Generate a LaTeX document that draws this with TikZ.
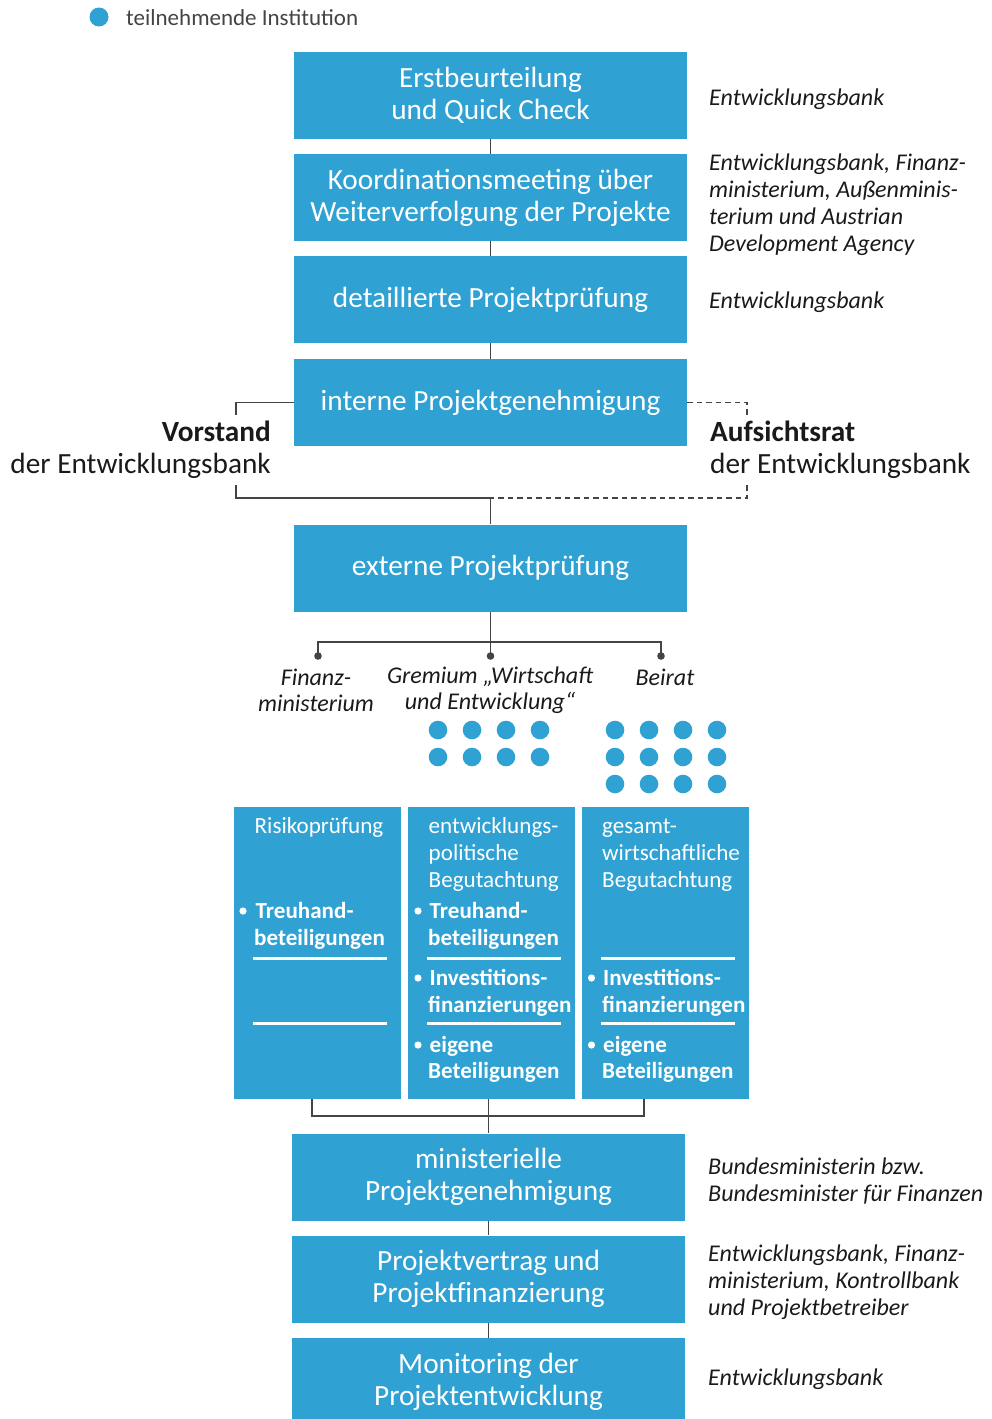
\documentclass[tikz,border=0pt]{standalone}
\usepackage{fontspec}
\setmainfont{Carlito}
\definecolor{bl}{HTML}{2FA1D3}
\definecolor{ln}{HTML}{444444}
\definecolor{tx}{HTML}{1A1A1A}
\begin{document}
\begin{tikzpicture}[x=1pt,y=-1pt,
  box/.style={fill=bl, text=white, minimum width=393, minimum height=87, inner sep=0, align=center, font=\fontsize{29.3}{32}\selectfont},
  col/.style={fill=bl, minimum width=167, minimum height=292, inner sep=0},
  conn/.style={draw=ln, line width=1.6},
  dconn/.style={conn, dash pattern=on 5.5pt off 4pt},
  rlab/.style={anchor=west, align=left, text=tx, font=\fontsize{24}{27}\selectfont\itshape, inner sep=0},
  blab/.style={align=center, text=tx, font=\fontsize{24}{26}\selectfont\itshape, inner sep=0},
  big/.style={text=tx, font=\fontsize{29.3}{32}\selectfont, inner sep=0},
  hd/.style={anchor=base west, text=white, font=\fontsize{23.1}{26}\selectfont, inner sep=0},
  bd/.style={anchor=base west, text=white, font=\fontsize{23.1}{26}\selectfont\bfseries, inner sep=0},
  uline/.style={draw=white, line width=3}
]
\useasboundingbox (0,0) rectangle (991,1419);

% legend
\fill[bl] (99,17) circle (9.5);
\node[anchor=west, inner sep=0, text=ln, font=\fontsize{23}{26}\selectfont] (leg) at (126,17.5) {teilnehmende Institution};

% main boxes
\node[box] (b1) at (490.5,95.5) {Erstbeurteilung\\und Quick Check};
\node[box] (b2) at (490.5,197.5) {Koordinationsmeeting über\\Weiterverfolgung der Projekte};
\node[box] (b3) at (490.5,299.5) {detaillierte Projektprüfung};
\node[box] (b4) at (490.5,402.5) {interne Projektgenehmigung};
\node[box] (b5) at (490.5,568) {externe Projektprüfung};
\node[box] (b6) at (488.5,1177) {ministerielle\\Projektgenehmigung};
\node[box] (b7) at (488.5,1279) {Projektvertrag und\\Projektfinanzierung};
\node[box] (b8) at (488.5,1381.5) {Monitoring der\\Projektentwicklung};

\draw[conn] (b1.south) -- (b2.north);
\draw[conn] (b2.south) -- (b3.north);
\draw[conn] (b3.south) -- (b4.north);
\draw[conn] (b6.south) -- (b7.north);
\draw[conn] (b7.south) -- (b8.north);

% right labels
\node[rlab] (r1) at (709,99) {Entwicklungsbank};
\node[rlab] (r2) at (709,205) {Entwicklungsbank, Finanz-\\ministerium, Außenminis-\\terium und Austrian\\Development Agency};
\node[rlab] (r3) at (709,302) {Entwicklungsbank};
\node[rlab] (r6) at (708,1181) {Bundesministerin bzw.\\Bundesminister für Finanzen};
\node[rlab] (r7) at (708,1282) {Entwicklungsbank, Finanz-\\ministerium, Kontrollbank\\und Projektbetreiber};
\node[rlab] (r8) at (708,1379) {Entwicklungsbank};

% Vorstand / Aufsichtsrat
\node[big, anchor=east, align=right] (vor) at (271,450) {\textbf{Vorstand}\\der Entwicklungsbank};
\node[big, anchor=west, align=left] (auf) at (710,450) {\textbf{Aufsichtsrat}\\der Entwicklungsbank};
\coordinate (vl1) at (236,415);
\coordinate (vl2) at (236,485);
\coordinate (ar1) at (747,415);
\coordinate (ar2) at (747,485);
\coordinate (j) at (490.5,498);
\draw[conn] (b4.west) -| (vl1);
\draw[conn] (vl2) |- (j);
\draw[dconn] (b4.east) -| (ar1);
\draw[dconn] (ar2) |- (j);
\draw[conn] (j) -- (b5.north);

% branch to committees
\coordinate (d1) at (318,656);
\coordinate (d2) at (490.5,656);
\coordinate (d3) at (661,656);
\coordinate (k) at (490.5,642);
\draw[conn] (b5.south) -- (d2);
\draw[conn] (d1) |- (k) -| (d3);
\foreach \p in {d1,d2,d3} \fill[ln] (\p) circle (3.8);

\node[blab] (fm) at (316,690) {Finanz-\\ministerium};
\node[blab] (gr) at (490,690) {Gremium „Wirtschaft\\und Entwicklung“};
\node[blab] (be) at (665,677) {Beirat};

% participant dots
\foreach \x in {438,472,506,540} \foreach \y in {730,757} \fill[bl] (\x,\y) circle (9.3);
\foreach \x in {615,649,683,717} \foreach \y in {730,757,784} \fill[bl] (\x,\y) circle (9.3);

% columns
\node[col] (c1) at (317.5,953) {};
\node[col] (c2) at (491.5,953) {};
\node[col] (c3) at (665.5,953) {};

% column 1
\node[hd] (c1h) at (254.5,833) {Risikoprüfung};
\fill[white] (243,911) circle (3.6);
\node[bd] (c1t1) at (255.5,918) {Treuhand-};
\node[bd] (c1t2) at (254,945) {beteiligungen};
\draw[uline] (253,958) -- (387,958);
\draw[uline] (253,1023) -- (387,1023);

% column 2
\node[hd] (c2h1) at (428.5,833) {entwicklungs-};
\node[hd] (c2h2) at (428.5,860) {politische};
\node[hd] (c2h3) at (428.5,887) {Begutachtung};
\fill[white] (418,911) circle (3.6);
\node[bd] (c2t1) at (429.5,918) {Treuhand-};
\node[bd] (c2t2) at (428,945) {beteiligungen};
\draw[uline] (427,958) -- (561,958);
\fill[white] (418,978) circle (3.6);
\node[bd] (c2i1) at (429.5,985) {Investitions-};
\node[bd] (c2i2) at (428,1012) {finanzierungen};
\draw[uline] (427,1023) -- (561,1023);
\fill[white] (418,1045) circle (3.6);
\node[bd] (c2e1) at (429.5,1052) {eigene};
\node[bd] (c2e2) at (428,1078) {Beteiligungen};

% column 3
\node[hd] (c3h1) at (602,833) {gesamt-};
\node[hd] (c3h2) at (602,860) {wirtschaftliche};
\node[hd] (c3h3) at (602,887) {Begutachtung};
\draw[uline] (601,958) -- (735,958);
\fill[white] (591.5,978) circle (3.6);
\node[bd] (c3i1) at (603,985) {Investitions-};
\node[bd] (c3i2) at (602,1012) {finanzierungen};
\draw[uline] (601,1023) -- (735,1023);
\fill[white] (591.5,1045) circle (3.6);
\node[bd] (c3e1) at (603,1052) {eigene};
\node[bd] (c3e2) at (602,1078) {Beteiligungen};

% bottom join
\coordinate (e1) at (312,1099);
\coordinate (e2) at (488.5,1099);
\coordinate (e3) at (644,1099);
\coordinate (m) at (488.5,1116);
\draw[conn] (e1) |- (m) -| (e3);
\draw[conn] (e2) -- (b6.north);
\end{tikzpicture}
\end{document}
